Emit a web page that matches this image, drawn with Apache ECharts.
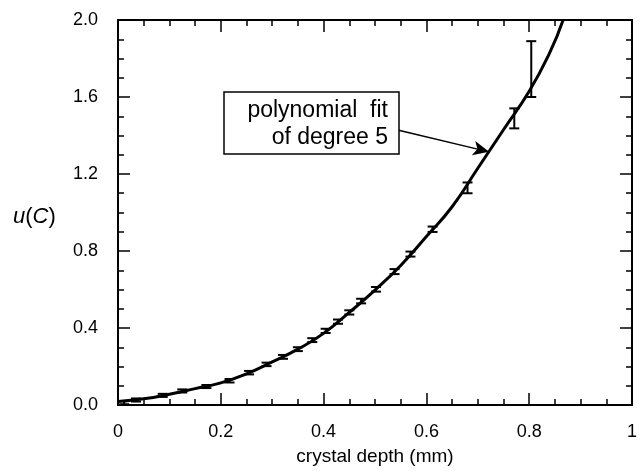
<!DOCTYPE html>
<html lang="en">

<head>
    <meta charset="UTF-8">
    <title>u(C) vs crystal depth</title>
    <script src="https://cdn.jsdelivr.net/npm/echarts@6/dist/echarts.min.js"></script>
    <style>
        body { margin: 0; background: #fff; }
    </style>
</head>

<body>
    <div id="main" style="width: 640px;height:471px;"></div>
    <script type="text/javascript">
        // measured points with error bars
        const depth = [0.012, 0.035, 0.087, 0.125, 0.172, 0.217, 0.255, 0.289, 0.321, 0.350, 0.378,
            0.404, 0.428, 0.450, 0.473, 0.502, 0.538, 0.569, 0.612, 0.680, 0.771, 0.804]
        const uC = [0.012, 0.026, 0.050, 0.073, 0.096, 0.126, 0.168, 0.211, 0.250, 0.290, 0.337,
            0.385, 0.433, 0.481, 0.540, 0.601, 0.693, 0.784, 0.913, 1.128, 1.489, 1.745]
        const uErr = [0.008, 0.008, 0.008, 0.008, 0.008, 0.009, 0.009, 0.009, 0.010, 0.010, 0.010,
            0.011, 0.011, 0.011, 0.012, 0.012, 0.013, 0.013, 0.014, 0.028, 0.052, 0.145]

        // polynomial fit curve
        const fitX = [0, 0.05, 0.1, 0.15, 0.2, 0.25, 0.3, 0.35, 0.4, 0.45, 0.5, 0.55, 0.6, 0.65, 0.7, 0.75, 0.8, 0.84, 0.866]
        const fitY = [0.018, 0.032, 0.056, 0.085, 0.115, 0.162, 0.224, 0.290, 0.372, 0.481, 0.597, 0.725, 0.875, 1.03, 1.23, 1.43, 1.63, 1.83, 2.0]

        // arrow from the label box to the curve (data coords)
        const arrowFrom = [0.544, 1.429]
        const arrowTo = [0.722, 1.315]

        const font = 'Liberation Sans, Arial, Helvetica, sans-serif'

        const errData = depth.map((d, i) => [d, uC[i] - uErr[i], uC[i] + uErr[i]])
        const fitData = fitX.map((x, i) => [x, fitY[i]])

        const tickStyle = { show: true, inside: true, length: 12, lineStyle: { color: '#000', width: 1.5 } }
        const minorStyle = { show: true, splitNumber: 4, length: 6, lineStyle: { color: '#000', width: 1.5 } }
        const lineStyle = { show: true, onZero: false, lineStyle: { color: '#000', width: 2 } }

        let options = {
            animation: false,
            backgroundColor: '#fff',
            grid: { left: 118, right: 4, top: 20, bottom: 66 },
            xAxis: [{
                type: 'value', min: 0, max: 1, interval: 0.2,
                axisLine: lineStyle, axisTick: tickStyle, minorTick: minorStyle,
                splitLine: { show: false },
                axisLabel: {
                    margin: 18, color: '#000', fontSize: 18, fontFamily: font,
                    formatter: v => (v === 0 || v === 1) ? String(v) : v.toFixed(1)
                },
                name: 'crystal depth (mm)', nameLocation: 'middle', nameGap: 42,
                nameTextStyle: { color: '#000', fontSize: 19, fontFamily: font }
            }, {
                type: 'value', position: 'top', min: 0, max: 1, interval: 0.2,
                axisLine: lineStyle, axisTick: tickStyle, minorTick: minorStyle,
                splitLine: { show: false }, axisLabel: { show: false }
            }],
            yAxis: [{
                type: 'value', min: 0, max: 2, interval: 0.4,
                axisLine: lineStyle, axisTick: tickStyle, minorTick: minorStyle,
                splitLine: { show: false },
                axisLabel: {
                    margin: 20, color: '#000', fontSize: 18, fontFamily: font,
                    formatter: v => v.toFixed(1)
                }
            }, {
                type: 'value', position: 'right', min: 0, max: 2, interval: 0.4,
                axisLine: lineStyle, axisTick: tickStyle, minorTick: minorStyle,
                splitLine: { show: false }, axisLabel: { show: false }
            }],
            graphic: [{
                type: 'text', left: 13, top: 206,
                style: {
                    text: '{i|u}({i|C})', fill: '#000', fontSize: 22, fontFamily: font,
                    rich: { i: { fontStyle: 'italic', fontSize: 22, fontFamily: font } }
                }
            }, {
                type: 'rect', shape: { x: 224, y: 92, width: 175, height: 62 },
                style: { fill: '#fff', stroke: '#000', lineWidth: 1.5 }, z: 10
            }, {
                type: 'text', x: 388, y: 97, z: 11,
                style: {
                    text: 'polynomial  fit\nof degree 5', align: 'right', fill: '#000',
                    fontSize: 23, lineHeight: 27, fontFamily: font
                }
            }],
            series: [{
                name: 'fit', type: 'line', smooth: true, showSymbol: false,
                data: fitData, lineStyle: { color: '#000', width: 3 }, z: 3,
                markLine: {
                    silent: true, symbol: ['none', 'arrow'], symbolSize: [11, 16],
                    label: { show: false },
                    lineStyle: { color: '#000', width: 1.5, type: 'solid' },
                    data: [[{ coord: arrowFrom }, { coord: arrowTo }]]
                }
            }, {
                name: 'data', type: 'custom', data: errData, z: 4,
                renderItem: function (params, api) {
                    const x = api.value(0)
                    const lo = api.coord([x, api.value(1)])
                    const hi = api.coord([x, api.value(2)])
                    const w = 5
                    const st = { stroke: '#000', lineWidth: 2 }
                    return {
                        type: 'group', children: [
                            { type: 'line', shape: { x1: lo[0], y1: lo[1], x2: hi[0], y2: hi[1] }, style: st },
                            { type: 'line', shape: { x1: lo[0] - w, y1: lo[1], x2: lo[0] + w, y2: lo[1] }, style: st },
                            { type: 'line', shape: { x1: hi[0] - w, y1: hi[1], x2: hi[0] + w, y2: hi[1] }, style: st }
                        ]
                    }
                }
            }]
        };

        let myChart = echarts.init(document.getElementById('main'));
        myChart.setOption(options);
    </script>
</body>

</html>
